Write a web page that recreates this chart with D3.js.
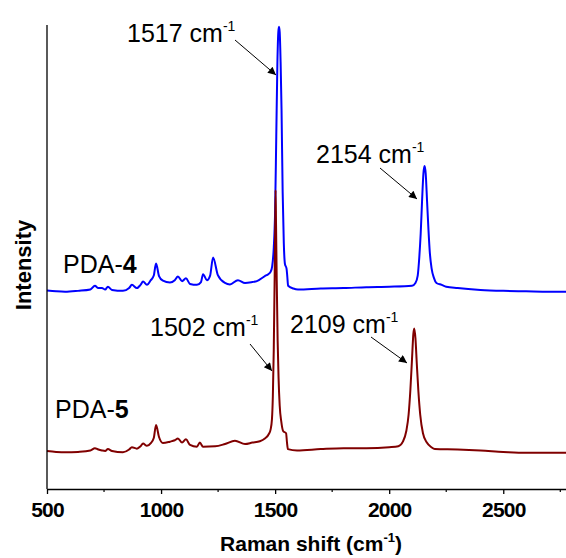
<!DOCTYPE html>
<html>
<head>
<meta charset="utf-8">
<script src="https://cdn.jsdelivr.net/npm/d3@7"></script>
<style>
body { margin: 0; background: #fff; }
svg text { font-family: Arial, "Liberation Sans", sans-serif; }
</style>
</head>
<body>
<div id="graph"></div>
<script>
// spectra (wavenumber cm-1, intensity a.u.)
var waveBlue = [500, 540, 579, 636, 690, 710, 725, 741, 755, 767, 785, 833, 860, 872, 894, 910, 921, 938, 955, 968, 978, 991, 1008, 1039, 1060, 1074, 1092, 1109, 1127, 1157, 1175, 1184, 1201, 1215, 1228, 1249, 1280, 1302, 1337, 1368, 1400, 1420, 1455, 1470, 1480, 1487, 1494, 1500, 1505, 1510, 1514, 1517, 1520, 1524, 1528, 1533, 1538, 1543, 1550, 1553, 1557, 1580, 1600, 1700, 1800, 1900, 2000, 2100, 2115, 2125, 2132, 2138, 2144, 2150, 2155, 2160, 2166, 2172, 2178, 2186, 2196, 2207, 2230, 2250, 2300, 2400, 2500, 2600, 2700, 2775];
var intBlue  = [42.8, 42.6, 42.5, 42.7, 43.0, 43.8, 43.3, 43.3, 43.0, 43.6, 42.9, 42.7, 43.3, 44.0, 43.3, 44.0, 44.7, 44.0, 45.0, 46.0, 48.6, 45.9, 44.9, 44.5, 45.0, 45.8, 44.8, 45.4, 44.2, 44.0, 44.6, 46.3, 45.0, 46.0, 49.9, 46.1, 44.4, 44.1, 45.0, 44.4, 44.6, 44.8, 45.9, 46.3, 46.8, 48.0, 52.0, 60.0, 76.0, 92.0, 98.5, 99.6, 98.5, 92.0, 82.0, 64.0, 53.0, 48.5, 47.5, 46.0, 43.8, 43.2, 43.0, 43.2, 43.3, 43.5, 43.6, 43.8, 44.4, 46.0, 50.0, 55.0, 62.0, 68.0, 69.6, 68.0, 62.0, 56.0, 51.0, 47.5, 45.5, 44.4, 44.0, 43.6, 43.3, 42.9, 42.7, 42.6, 42.5, 42.5];

var waveRed = [500, 540, 579, 636, 690, 710, 725, 741, 755, 767, 785, 833, 860, 872, 894, 910, 921, 938, 955, 968, 978, 991, 1008, 1039, 1060, 1074, 1092, 1109, 1127, 1157, 1170, 1184, 1237, 1280, 1324, 1368, 1400, 1433, 1455, 1473, 1480, 1486, 1490, 1494, 1498, 1500, 1502, 1504, 1507, 1511, 1515, 1520, 1527, 1535, 1548, 1552, 1556, 1596, 1700, 1800, 1900, 2000, 2040, 2060, 2075, 2085, 2093, 2100, 2106, 2110, 2115, 2121, 2128, 2136, 2148, 2165, 2185, 2200, 2300, 2400, 2500, 2600, 2700, 2775];
var intRed  = [8.2, 8.0, 7.9, 8.0, 8.3, 8.8, 8.5, 8.3, 8.2, 8.6, 8.2, 7.9, 8.5, 9.0, 8.7, 9.2, 9.8, 9.3, 9.9, 11.0, 13.8, 11.2, 9.9, 10.2, 10.5, 10.9, 10.0, 10.7, 9.5, 9.1, 10.0, 9.1, 9.2, 9.7, 10.4, 9.7, 10.0, 10.3, 10.9, 11.9, 12.8, 15.0, 20.0, 30.0, 46.0, 56.0, 64.4, 57.0, 45.0, 32.0, 24.0, 18.0, 14.5, 12.5, 12.0, 10.0, 8.6, 8.3, 8.6, 8.8, 8.8, 9.0, 9.2, 10.2, 12.5, 16.0, 21.5, 28.0, 33.5, 34.6, 32.5, 27.0, 21.0, 16.0, 12.0, 10.0, 9.0, 8.6, 8.5, 8.3, 8.0, 7.8, 7.8, 7.8];

var xTicks = [500, 1000, 1500, 2000, 2500];
var xMinor = [750, 1250, 1750, 2250, 2750];
var peakLabels = ["1517", "2154", "1502", "2109"];
var seriesNames = ["PDA-", "PDA-"];
var seriesNums = ["4", "5"];

var width = 566, height = 558;
var svg = d3.select('#graph').append('svg')
    .attr('width', width)
    .attr('height', height);

var x = d3.scaleLinear().domain([500, 2775]).range([47, 566]);
var y = d3.scaleLinear().domain([0, 100]).range([489, 25]);

var line = d3.line()
    .x(function(d) { return x(d[0]); })
    .y(function(d) { return y(d[1]); })
    .curve(d3.curveMonotoneX);

var blue = d3.zip(waveBlue, intBlue);
var red = d3.zip(waveRed, intRed);

svg.append('path').datum(blue)
    .attr('d', line)
    .attr('fill', 'none')
    .attr('stroke', '#0000ff')
    .attr('stroke-width', 2);

svg.append('path').datum(red)
    .attr('d', line)
    .attr('fill', 'none')
    .attr('stroke', '#800000')
    .attr('stroke-width', 2);

// axes
svg.append('line')
    .attr('x1', 47).attr('y1', 25)
    .attr('x2', 47).attr('y2', 489)
    .attr('stroke', '#000').attr('stroke-width', 1.3);

var xAxis = svg.append('g')
    .attr('transform', 'translate(0,489)')
    .call(d3.axisBottom(x).tickValues(xTicks).tickFormat(d3.format('d'))
        .tickSize(5).tickSizeOuter(0).tickPadding(8));
xAxis.select('.domain').attr('stroke-width', 1.3);
xAxis.selectAll('.tick line').attr('stroke-width', 1.3);
xAxis.selectAll('text')
    .attr('font-size', 21)
    .attr('font-weight', 'bold')
    .attr('letter-spacing', -0.8)
    .attr('font-family', 'Arial, "Liberation Sans", sans-serif')
    .attr('fill', '#000');

svg.append('g').selectAll('line')
    .data(xMinor)
    .enter().append('line')
    .attr('x1', function(d) { return x(d); })
    .attr('x2', function(d) { return x(d); })
    .attr('y1', 489).attr('y2', 492)
    .attr('stroke', '#000').attr('stroke-width', 1.2);

// axis titles
var xt = svg.append('text')
    .attr('x', 311).attr('y', 551)
    .attr('text-anchor', 'middle')
    .attr('font-size', 21)
    .attr('font-weight', 'bold');
xt.append('tspan').text('Raman shift (cm');
xt.append('tspan').attr('dy', -9).attr('font-size', 13).text('-1');
xt.append('tspan').attr('dy', 9).text(')');

svg.append('text')
    .attr('transform', 'translate(31,265) rotate(-90)')
    .attr('text-anchor', 'middle')
    .attr('font-size', 22)
    .attr('font-weight', 'bold')
    .text('Intensity');

// series labels
var labelPos = [[63, 273], [55, 418]];
for (var i = 0; i < 2; i++)
{
    var t = svg.append('text')
        .attr('x', labelPos[i][0]).attr('y', labelPos[i][1])
        .attr('font-size', 25);
    t.append('tspan').text(seriesNames[i]);
    t.append('tspan').attr('font-weight', 'bold').text(seriesNums[i]);
}

// peak annotations
svg.append('defs').append('marker')
    .attr('id', 'arrow')
    .attr('viewBox', '0 0 10 10')
    .attr('refX', 10).attr('refY', 5)
    .attr('markerWidth', 11).attr('markerHeight', 8)
    .attr('markerUnits', 'userSpaceOnUse')
    .attr('orient', 'auto')
    .append('path')
    .attr('d', 'M0,0 L10,5 L0,10 Z')
    .attr('fill', '#000');

var textPos = [[127, 42], [316, 163], [150, 336], [290, 333]];
var arrowPos = [[235, 40, 276, 75], [380, 168, 417, 199], [250, 344, 272, 371], [371, 337, 407, 363]];
for (var i = 0; i < peakLabels.length; i++)
{
    var a = svg.append('text')
        .attr('x', textPos[i][0]).attr('y', textPos[i][1])
        .attr('font-size', 25);
    a.append('tspan').text(peakLabels[i] + ' cm');
    a.append('tspan').attr('dy', -11).attr('font-size', 14).text('-1');

    svg.append('line')
        .attr('x1', arrowPos[i][0]).attr('y1', arrowPos[i][1])
        .attr('x2', arrowPos[i][2]).attr('y2', arrowPos[i][3])
        .attr('stroke', '#000').attr('stroke-width', 1)
        .attr('marker-end', 'url(#arrow)');
}
</script>
</body>
</html>
